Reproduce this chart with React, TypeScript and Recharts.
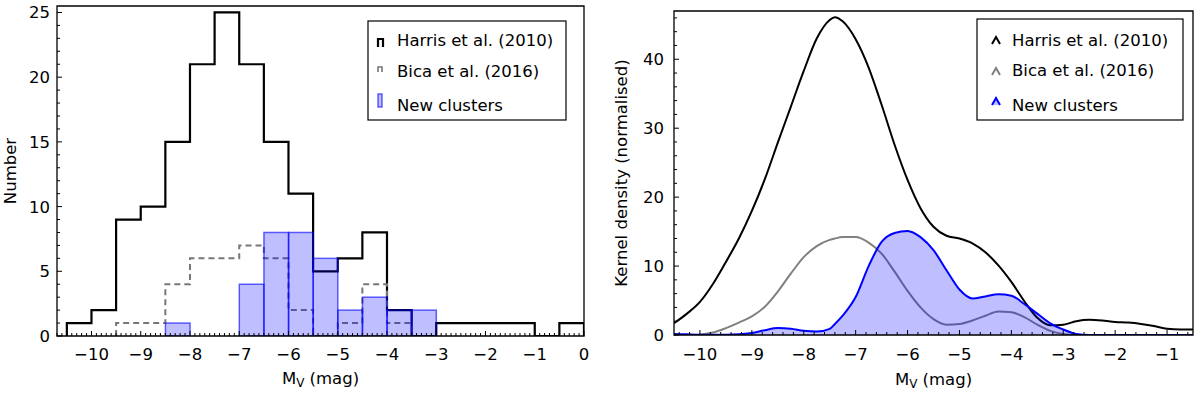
import React from 'react';
import { ComposedChart, Line, Bar, Area, XAxis, YAxis, ReferenceArea } from 'recharts';

const FONT = '"DejaVu Sans", Lato, sans-serif';
const FS = 16.5;

// ---- left panel: histograms, 0.5 mag bins (left edges) ----
const BIN_WIDTH = 0.5;
const binLeft = [
  -10.5, -10, -9.5, -9, -8.5, -8, -7.5, -7, -6.5, -6, -5.5,
  -5, -4.5, -4, -3.5, -3, -2.5, -2, -1.5, -1, -0.5,
];
const harrisCounts = [1, 2, 9, 10, 15, 21, 25, 21, 15, 11, 5, 6, 8, 2, 0, 1, 1, 1, 1, 0, 1];
const bicaCounts = [0, 0, 1, 1, 4, 6, 6, 7, 6, 2, 0, 1, 4, 1, 0, 0, 0, 0, 0, 0, 0];
const newCounts = [0, 0, 0, 0, 1, 0, 0, 4, 8, 8, 6, 2, 3, 2, 2, 0, 0, 0, 0, 0, 0];

// ---- right panel: kernel density estimates ----
const mvGrid = [
  -10.5, -10.25, -10, -9.75, -9.5, -9.25, -9, -8.75, -8.5, -8.25, -8,
  -7.75, -7.5, -7.4, -7.25, -7, -6.75, -6.5, -6.25, -6, -5.75, -5.5,
  -5.25, -5, -4.75, -4.5, -4.25, -4, -3.75, -3.5, -3.25, -3,
  -2.75, -2.5, -2.25, -2, -1.75, -1.5, -1.25, -1, -0.75, -0.5,
];
const harrisKde = [
  1.7, 3.1, 4.8, 7.4, 10.6, 14.0, 18.0, 22.6, 27.9, 33.1, 38.3,
  43.0, 45.7, 46.1, 45.5, 42.9, 38.8, 33.4, 27.6, 22.5, 18.4, 15.7,
  14.4, 14.0, 13.3, 12.0, 10.1, 7.7, 4.9, 2.5, 1.4, 1.5,
  2.0, 2.2, 2.1, 1.9, 1.8, 1.6, 1.3, 0.9, 0.8, 0.8,
];
const bicaKde = [
  0, 0, 0.05, 0.35, 1.0, 1.8, 2.7, 4.1, 6.3, 8.9, 11.3,
  12.9, 13.8, 14.0, 14.2, 14.2, 13.4, 11.8, 9.2, 6.4, 4.0, 2.3,
  1.5, 1.6, 2.1, 2.8, 3.4, 3.3, 2.6, 1.5, 0.6, 0.15,
  0, 0, 0, 0, 0, 0, 0, 0, 0, 0,
];
const newKde = [
  0.15, 0.1, 0.05, 0.05, 0.05, 0.1, 0.3, 0.7, 1.0, 0.9, 0.6,
  0.5, 0.9, 1.6, 2.8, 5.5, 10.0, 13.5, 14.8, 15.1, 14.2, 12.3,
  9.4, 6.6, 5.3, 5.6, 5.9, 5.7, 4.5, 3.1, 1.7, 0.8,
  0.15, 0, 0, 0, 0, 0, 0, 0, 0, 0,
];

const SERIES = ['Harris et al. (2010)', 'Bica et al. (2016)', 'New clusters'];

// layout
const H_MARGIN = { top: 6, right: 16, bottom: 0, left: 0 };
const H_YW = 57;
const H_XH = 58;
const H_XDOM = [-10.7, 0];
const H_YDOM = [0, 25.5];
const K_MARGIN = { top: 11, right: 7, bottom: 0, left: 0 };
const K_YW = 74;
const K_XH = 59;
const K_XDOM = [-10.5, -0.5];
const K_YDOM = [0, 47];

const range = (a: number, b: number, step: number) => {
  const n = Math.round((b - a) / step);
  const out: number[] = [];
  for (let i = 0; i <= n; i++) out.push(+(a + i * step).toFixed(4));
  return out;
};
const isMultiple = (v: number, m: number) => Math.abs(v / m - Math.round(v / m)) < 1e-6;
const fmt = (v: number) => (v < 0 ? '\u2212' + Math.abs(v) : String(v));

const hxTicks = range(-10.7, 0, 0.1);
const hyTicks = range(0, 25, 1);
const kxTicks = range(-10.4, -0.6, 0.2);
const kyTicks = range(0, 46, 2);

// step outline of a histogram (trimmed to non-empty range)
const stepRows = (counts: number[]) => {
  const first = counts.findIndex((c) => c > 0);
  let last = counts.length - 1;
  while (counts[last] === 0) last--;
  const rows = [{ x: binLeft[first], y: 0 }];
  for (let i = first; i <= last; i++) rows.push({ x: binLeft[i], y: counts[i] });
  const end = binLeft[last] + BIN_WIDTH;
  rows.push({ x: end, y: counts[last] }, { x: end, y: 0 });
  return rows;
};
const harrisSteps = stepRows(harrisCounts);
const bicaSteps = stepRows(bicaCounts);
const newBars = binLeft
  .map((l, i) => ({ x: l + BIN_WIDTH / 2, y: newCounts[i] }))
  .filter((d) => d.y > 0);

const kdeRows = mvGrid.map((mv, i) => ({
  mv,
  harris: harrisKde[i],
  bica: bicaKde[i],
  fresh: newKde[i],
}));

// width of one 0.5 mag bin in pixels on the left axis
const hPlotW = 600 - H_MARGIN.left - H_MARGIN.right - H_YW;
const binPx = (hPlotW * BIN_WIDTH) / (H_XDOM[1] - H_XDOM[0]);

const BinShape = (p: any) => {
  if (!p.height) return null;
  const cx = p.x + p.width / 2;
  return (
    <rect
      x={cx - binPx / 2}
      y={p.y}
      width={binPx}
      height={p.height}
      fill="#0000ff"
      fillOpacity={0.25}
      stroke="#0000ff"
      strokeOpacity={0.6}
      strokeWidth={1.5}
    />
  );
};

const xTick = (majorEvery: number, labelDy: number) => (p: any) => {
  const v = p.payload.value;
  const major = isMultiple(v, majorEvery);
  return (
    <g>
      <line x1={p.x} x2={p.x} y1={p.y} y2={p.y - (major ? 5 : 3)} stroke="#000" strokeWidth={1} />
      {major && (
        <text x={p.x} y={p.y + labelDy} textAnchor="middle" fontSize={FS} fontFamily={FONT} fill="#000">
          {fmt(v)}
        </text>
      )}
    </g>
  );
};

const yTick = (majorEvery: number, gap: number) => (p: any) => {
  const v = p.payload.value;
  const major = isMultiple(v, majorEvery);
  return (
    <g>
      <line x1={p.x} x2={p.x + (major ? 5 : 3)} y1={p.y} y2={p.y} stroke="#000" strokeWidth={1} />
      {major && (
        <text x={p.x - gap} y={p.y + 6} textAnchor="end" fontSize={FS} fontFamily={FONT} fill="#000">
          {fmt(v)}
        </text>
      )}
    </g>
  );
};

const MvTitle = ({ cx, y }: { cx: number; y: number }) => (
  <text x={cx} y={y} textAnchor="middle" fontSize={FS} fontFamily={FONT} fill="#000">
    M<tspan fontSize={12} dy={3}>V</tspan>
    <tspan dy={-3}> (mag)</tspan>
  </text>
);

const YTitle = ({ cx, cy, text }: { cx: number; cy: number; text: string }) => (
  <text
    x={cx}
    y={cy}
    textAnchor="middle"
    dominantBaseline="central"
    transform={`rotate(-90 ${cx} ${cy})`}
    fontSize={FS}
    fontFamily={FONT}
    fill="#000"
  >
    {text}
  </text>
);

function HistogramPanel() {
  const plotBottom = 394 - H_XH;
  return (
    <div style={{ position: 'relative', width: 600, height: 394 }}>
      <ComposedChart width={600} height={394} data={newBars} margin={H_MARGIN}>
        <XAxis
          dataKey="x"
          type="number"
          domain={H_XDOM}
          allowDataOverflow
          ticks={hxTicks}
          interval={0}
          tickSize={0}
          tickMargin={0}
          axisLine={false}
          tickLine={false}
          tick={xTick(1, 24)}
          height={H_XH}
        />
        <YAxis
          type="number"
          domain={H_YDOM}
          allowDataOverflow
          ticks={hyTicks}
          interval={0}
          tickSize={0}
          tickMargin={0}
          axisLine={false}
          tickLine={false}
          tick={yTick(5, 7)}
          width={H_YW}
        />
        <Line
          data={harrisSteps}
          dataKey="y"
          type="stepAfter"
          stroke="#000"
          strokeWidth={2.2}
          dot={false}
          isAnimationActive={false}
          zIndex={400}
        />
        <Line
          data={bicaSteps}
          dataKey="y"
          type="stepAfter"
          stroke="#777"
          strokeWidth={2}
          strokeDasharray="6 4"
          dot={false}
          isAnimationActive={false}
          zIndex={401}
        />
        <Bar dataKey="y" shape={BinShape} isAnimationActive={false} zIndex={402} />
        <ReferenceArea
          x1={H_XDOM[0]}
          x2={H_XDOM[1]}
          y1={H_YDOM[0]}
          y2={H_YDOM[1]}
          fill="none"
          stroke="#000"
          strokeWidth={1.3}
          ifOverflow="visible"
          zIndex={600}
        />
      </ComposedChart>
      <svg width={600} height={394} style={{ position: 'absolute', left: 0, top: 0, pointerEvents: 'none' }}>
        <YTitle cx={10} cy={171} text="Number" />
        <MvTitle cx={320.5} y={plotBottom + 48} />
        <g transform="translate(368 21)">
          <rect x={0} y={0} width={198} height={99} fill="#fff" stroke="#000" strokeWidth={1.2} />
          <path d="M10 26 V18 H15 V26" fill="none" stroke="#000" strokeWidth={2.2} />
          <path d="M10 51 V46 H14 V51" fill="none" stroke="#777" strokeWidth={1.6} />
          <rect x={10} y={73} width={4} height={13} fill="#0000ff" fillOpacity={0.25} stroke="#0000ff" strokeOpacity={0.6} strokeWidth={1.5} />
          {SERIES.map((s, i) => (
            <text key={s} x={29} y={[25, 56, 90][i]} fontSize={FS} fontFamily={FONT} fill="#000">
              {s}
            </text>
          ))}
        </g>
      </svg>
    </div>
  );
}

function KdePanel() {
  const plotBottom = 394 - K_XH;
  const plotCx = K_YW + (600 - K_MARGIN.right - K_YW) / 2;
  return (
    <div style={{ position: 'relative', width: 600, height: 394 }}>
      <ComposedChart width={600} height={394} data={kdeRows} margin={K_MARGIN}>
        <XAxis
          dataKey="mv"
          type="number"
          domain={K_XDOM}
          allowDataOverflow
          ticks={kxTicks}
          interval={0}
          tickSize={0}
          tickMargin={0}
          axisLine={false}
          tickLine={false}
          tick={xTick(1, 25)}
          height={K_XH}
        />
        <YAxis
          type="number"
          domain={K_YDOM}
          allowDataOverflow
          ticks={kyTicks}
          interval={0}
          tickSize={0}
          tickMargin={0}
          axisLine={false}
          tickLine={false}
          tick={yTick(10, 10)}
          width={K_YW}
        />
        <Line
          dataKey="harris"
          type="monotone"
          stroke="#000"
          strokeWidth={2}
          dot={false}
          isAnimationActive={false}
          zIndex={400}
        />
        <Line
          dataKey="bica"
          type="monotone"
          stroke="#808080"
          strokeWidth={2}
          dot={false}
          isAnimationActive={false}
          zIndex={401}
        />
        <Area
          dataKey="fresh"
          type="monotone"
          fill="#0000ff"
          fillOpacity={0.25}
          stroke="#0000ff"
          strokeWidth={2}
          isAnimationActive={false}
          zIndex={402}
        />
        <ReferenceArea
          x1={K_XDOM[0]}
          x2={K_XDOM[1]}
          y1={K_YDOM[0]}
          y2={K_YDOM[1]}
          fill="none"
          stroke="#000"
          strokeWidth={1.3}
          ifOverflow="visible"
          zIndex={600}
        />
      </ComposedChart>
      <svg width={600} height={394} style={{ position: 'absolute', left: 0, top: 0, pointerEvents: 'none' }}>
        <YTitle cx={21.5} cy={173} text="Kernel density (normalised)" />
        <MvTitle cx={plotCx} y={plotBottom + 50} />
        <g transform="translate(377 19)">
          <rect x={0} y={0} width={206} height={101} fill="#fff" stroke="#000" strokeWidth={1.2} />
          <polyline points="15,25 19,18 23,25" fill="none" stroke="#000" strokeWidth={2} />
          <polyline points="15,56 19,49 23,56" fill="none" stroke="#808080" strokeWidth={2} />
          <polyline points="15,86 19,79 23,86" fill="#0000ff" fillOpacity={0.25} stroke="#0000ff" strokeWidth={2} />
          {SERIES.map((s, i) => (
            <text key={s} x={35} y={[27, 57, 92][i]} fontSize={FS} fontFamily={FONT} fill="#000">
              {s}
            </text>
          ))}
        </g>
      </svg>
    </div>
  );
}

export default function App() {
  return (
    <div
      style={{
        position: 'absolute',
        left: 0,
        top: 0,
        width: 1200,
        height: 394,
        background: '#fff',
        fontFamily: FONT,
      }}
    >
      <div style={{ position: 'absolute', left: 0, top: 0 }}>
        <HistogramPanel />
      </div>
      <div style={{ position: 'absolute', left: 600, top: 0 }}>
        <KdePanel />
      </div>
    </div>
  );
}
